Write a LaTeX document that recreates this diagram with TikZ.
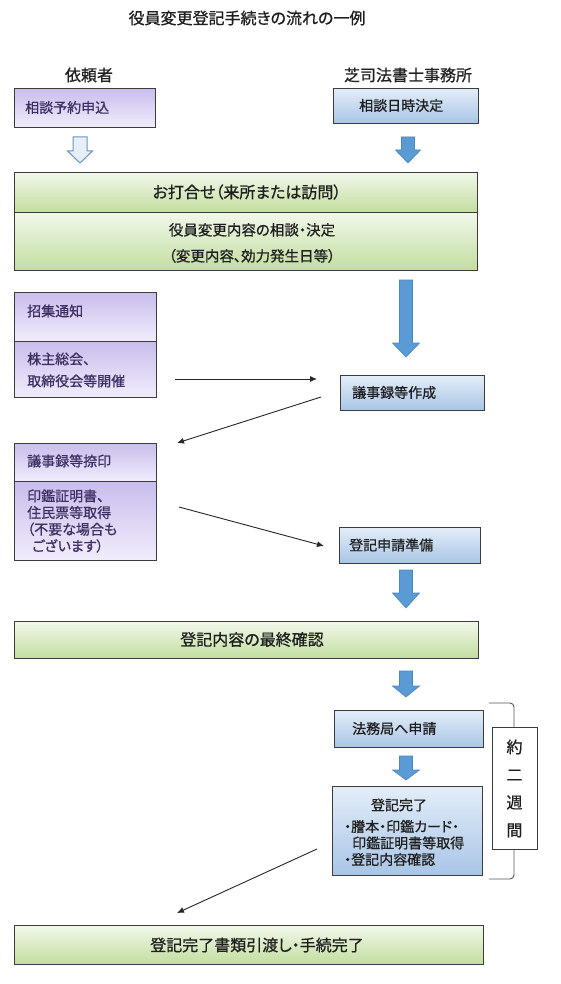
\documentclass[tikz,border=0pt]{standalone}
\usepackage{fontspec}
\setmainfont{Noto Sans CJK JP}[RawFeature=+palt, FakeBold=0.8]
\usetikzlibrary{arrows.meta}
\definecolor{lineC}{HTML}{3C3C3C}
\definecolor{pTop}{HTML}{C9BDEC}
\definecolor{pBot}{HTML}{F1EDFB}
\definecolor{bTop}{HTML}{E3EDF8}
\definecolor{bBot}{HTML}{A8C5E6}
\definecolor{gTop}{HTML}{F1F8EA}
\definecolor{gBot}{HTML}{C2DD9F}
\definecolor{arrFill}{HTML}{5B9BD5}
\definecolor{arrLine}{HTML}{4A86C0}
\definecolor{holLine}{HTML}{6E92C0}
\definecolor{holFill}{HTML}{E6EEF8}
\definecolor{pText}{HTML}{3D2F63}
\definecolor{brC}{HTML}{555555}
\tikzset{
  box/.style={draw=lineC, line width=0.9pt, inner sep=0pt, anchor=north west},
  pbox/.style={box, top color=pTop, bottom color=pBot},
  bbox/.style={box, top color=bTop, bottom color=bBot},
  gbox/.style={box, top color=gTop, bottom color=gBot},
  wbox/.style={box, fill=white},
  stxt/.style={inner sep=0pt, font=\fontsize{14}{17}\selectfont, text=black!88},
  ptxt/.style={stxt, text=pText, align=left},
  htxt/.style={inner sep=0pt, font=\fontsize{16}{19}\selectfont, text=black!88},
  conn/.style={draw=black!85, line width=0.9pt, -{Latex[length=7pt,width=6pt]}},
  blockarr/.style={fill=arrFill, draw=arrLine, line width=0.6pt},
  hollowarr/.style={fill=holFill, draw=holLine, line width=1pt},
  bracket/.style={draw=brC, line width=0.9pt, rounded corners=4pt}
}
% style, x, ytop, ybase, ytip, shaft half width, head half width
\newcommand\mydownarrow[7]{%
  \draw[#1] ({#2-#6},#3) -- ({#2+#6},#3) -- ({#2+#6},#4) -- ({#2+#7},#4) -- (#2,#5)
    -- ({#2-#7},#4) -- ({#2-#6},#4) -- cycle;}
\begin{document}
\begin{tikzpicture}[x=1pt,y=-1pt]
\useasboundingbox[fill=white] (0,0) rectangle (560,984);

% title and column headers
\node[htxt] (title) at (247,18) {役員変更登記手続きの流れの一例};
\node[htxt] (client) at (89,75) {依頼者};
\node[htxt] (office) at (408,75) {芝司法書士事務所};

% first row
\node[pbox, minimum width=141pt, minimum height=39pt] (a) at (14,88) {};
\node[ptxt, anchor=west] (at) at (25,107.5) {相談予約申込};
\node[bbox, minimum width=145pt, minimum height=35pt] (b) at (333,88) {};
\node[stxt, anchor=west] (bt) at (359,105.5) {相談日時決定};

\mydownarrow{hollowarr}{80}{137}{151}{163}{7}{12.5}
\mydownarrow{blockarr}{408}{137}{150}{163}{6.5}{12.5}

% meeting
\node[gbox, minimum width=463pt, minimum height=40pt] (g1) at (14,172) {};
\node[htxt] (g1t) at (247,192) {お打合せ（来所または訪問）};
\node[gbox, minimum width=463pt, minimum height=58pt] (g2) at (14,212) {};
\node[stxt, align=center, font=\fontsize{14.5}{26}\selectfont] (g2t) at (252,243)
  {役員変更内容の相談・決定\\（変更内容、効力発生日等）};

\mydownarrow{blockarr}{406}{280}{343}{357}{6.5}{13.5}

% convocation
\node[pbox, minimum width=142pt, minimum height=49pt] (c1) at (14,292) {};
\node[ptxt, anchor=west] (c1t) at (27,311) {招集通知};
\node[pbox, minimum width=142pt, minimum height=56pt] (c2) at (14,341) {};
\node[ptxt, anchor=west, font=\fontsize{14}{22}\selectfont] (c2t) at (27,370) {株主総会、\\取締役会等開催};

\node[bbox, minimum width=144pt, minimum height=35pt] (d) at (340,375) {};
\node[stxt, anchor=west] (dt) at (352,392.5) {議事録等作成};

\coordinate (h1s) at (175,379);
\coordinate (h1e) at (317,379);
\draw[conn] (h1s) -- (h1e);
\coordinate (d1s) at (321,397);
\coordinate (d1e) at (177,443);
\draw[conn] (d1s) -- (d1e);

% sealing
\node[pbox, minimum width=142pt, minimum height=38pt] (e1) at (14,443) {};
\node[ptxt, anchor=west] (e1t) at (27,461) {議事録等捺印};
\node[pbox, minimum width=142pt, minimum height=79pt] (e2) at (14,481) {};
\node[ptxt, anchor=west, font=\fontsize{14}{16.7}\selectfont] (e2t) at (27,521)
  {印鑑証明書、\\住民票等取得\\（不要な場合も\\\hspace*{5pt}ございます）};

\coordinate (e1s) at (179,507);
\coordinate (e1e) at (324,546);
\draw[conn] (e1s) -- (e1e);

\node[bbox, minimum width=141pt, minimum height=36pt] (f) at (339,527) {};
\node[stxt, anchor=west] (ft) at (349,545) {登記申請準備};

\mydownarrow{blockarr}{406}{570}{593}{608}{6.5}{13.5}

% final check
\node[gbox, minimum width=464pt, minimum height=37pt] (g3) at (14,621) {};
\node[htxt] (g3t) at (252,639.5) {登記内容の最終確認};

\mydownarrow{blockarr}{406}{671}{686}{697}{6.5}{13.5}

\node[bbox, minimum width=149pt, minimum height=37pt] (h) at (334,710) {};
\node[stxt, anchor=west] (ht) at (352,728.5) {法務局へ申請};

\mydownarrow{blockarr}{406}{756}{770}{780}{6.5}{13.5}

\node[bbox, minimum width=150pt, minimum height=89pt] (i) at (332,786) {};
\node[stxt] (it1) at (399,805) {登記完了};
\node[stxt, anchor=west, align=left, font=\fontsize{14}{16.5}\selectfont] (it2) at (344,843)
  {・謄本・印鑑カード・\\\hspace*{8pt}印鑑証明書等取得\\・登記内容確認};

% bracket and period
\coordinate (brTop) at (489,703);
\coordinate (brBot) at (489,879);
\draw[bracket] (brTop) -- (514,703) -- (514,879) -- (brBot);
\node[wbox, minimum width=45pt, minimum height=122pt] (j) at (492,727) {};
\node[htxt, align=center, font=\fontsize{16}{27.7}\selectfont] (jt) at (514.5,788.5) {約\\二\\週\\間};

\coordinate (i1s) at (317,849);
\coordinate (i1e) at (177,913);
\draw[conn] (i1s) -- (i1e);

\node[gbox, minimum width=469pt, minimum height=39pt] (g4) at (14,925) {};
\node[htxt] (g4t) at (257,945) {登記完了書類引渡し・手続完了};
\end{tikzpicture}
\end{document}
